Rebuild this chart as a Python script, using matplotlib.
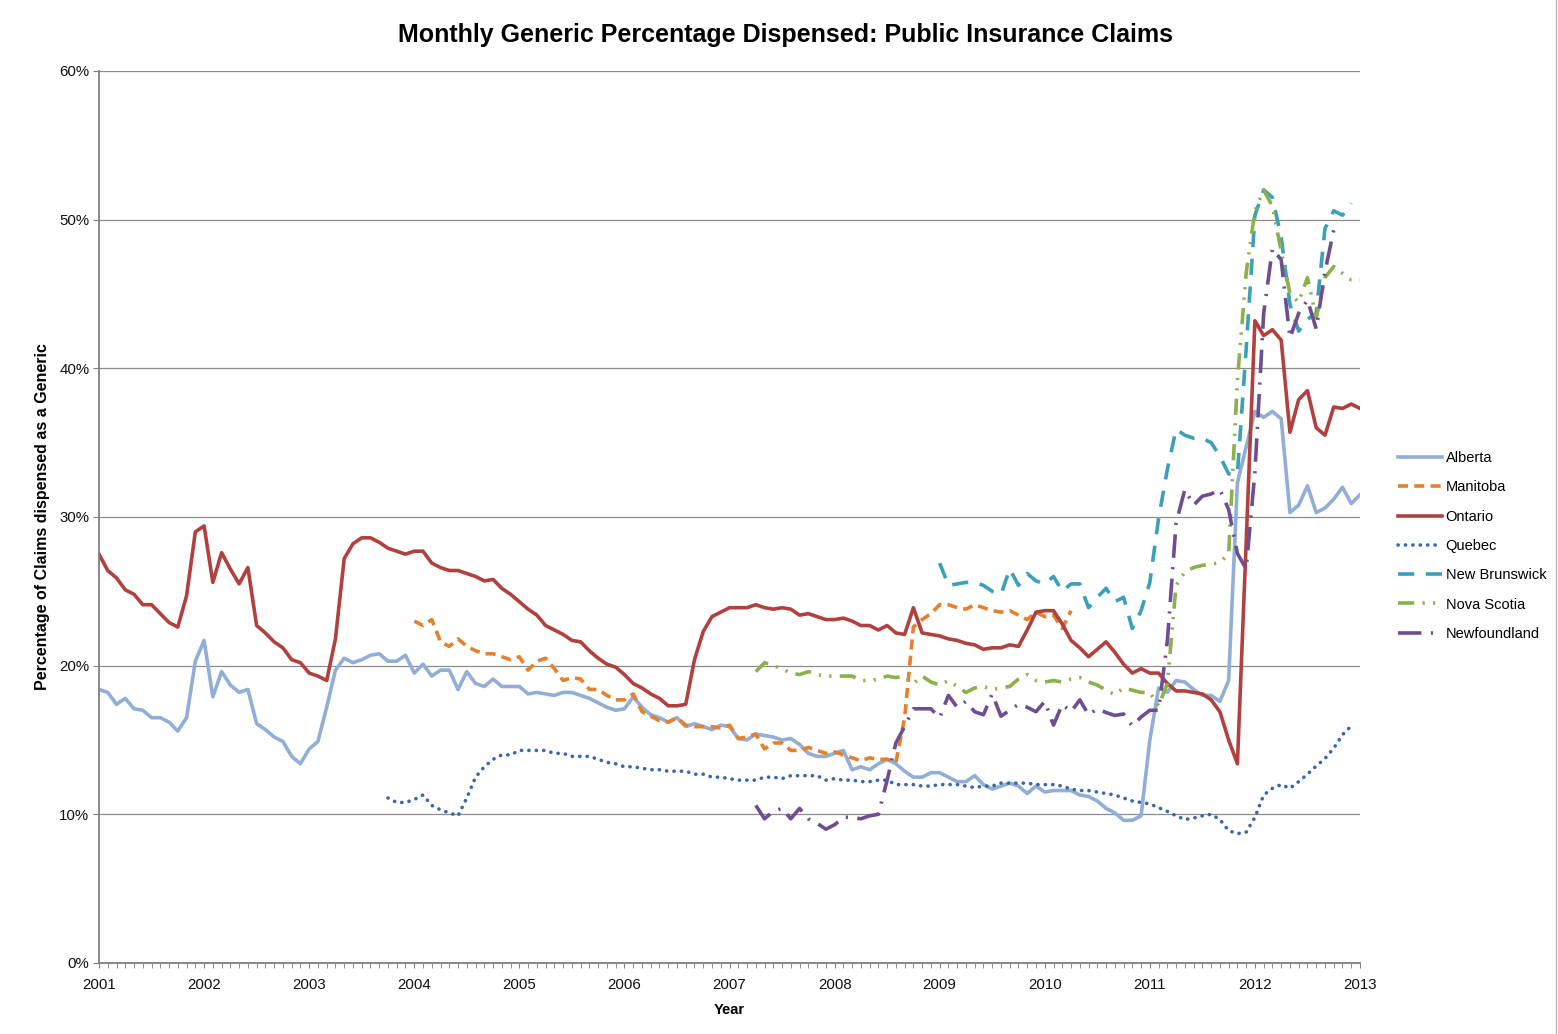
import numpy as np
import pandas as pd
import matplotlib
matplotlib.use("Agg")
import matplotlib.pyplot as plt
from matplotlib import font_manager
from matplotlib.lines import Line2D

# ---------------------------------------------------------
# DATA (monthly generic %)
# ---------------------------------------------------------
alberta_start = "2001-01"
alberta = [
    18.4, 18.2, 17.4, 17.8, 17.1, 17.0, 16.5, 16.5, 16.2, 15.6, 16.5, 20.3,
    21.7, 17.9, 19.6, 18.7, 18.2, 18.4, 16.1, 15.7, 15.2, 14.9, 13.9, 13.4,
    14.4, 14.9, 17.2, 19.7, 20.5, 20.2, 20.4, 20.7, 20.8, 20.3, 20.3, 20.7,
    19.5, 20.1, 19.3, 19.7, 19.7, 18.4, 19.6, 18.8, 18.6, 19.1, 18.6, 18.6,
    18.6, 18.1, 18.2, 18.1, 18.0, 18.2, 18.2, 18.0, 17.8, 17.5, 17.2, 17.0,
    17.1, 17.9, 17.2, 16.7, 16.5, 16.2, 16.5, 15.9, 16.1, 15.9, 15.7, 16.0,
    15.9, 15.1, 15.0, 15.4, 15.3, 15.2, 15.0, 15.1, 14.7, 14.1, 13.9, 13.9,
    14.1, 14.3, 13.0, 13.2, 13.0, 13.4, 13.7, 13.4, 12.9, 12.5, 12.5, 12.8,
    12.8, 12.5, 12.2, 12.2, 12.6, 12.0, 11.7, 11.9, 12.1, 11.9, 11.4, 11.9,
    11.5, 11.6, 11.6, 11.6, 11.3, 11.2, 10.9, 10.4, 10.1, 9.6, 9.6, 9.9,
    15.0, 18.5, 18.2, 19.0, 18.9, 18.4, 18.0, 18.0, 17.6, 19.0, 32.3, 34.7,
    37.1, 36.7, 37.1, 36.6, 30.3, 30.8, 32.1, 30.3, 30.6, 31.2, 32.0, 30.9,
    31.5,
]

manitoba_start = "2004-01"
manitoba = [
    23.0, 22.7, 23.1, 21.6, 21.3, 21.8, 21.3, 21.0, 20.8, 20.8, 20.6, 20.4,
    20.6, 19.7, 20.3, 20.5, 19.8, 19.0, 19.2, 19.1, 18.4, 18.4, 18.0, 17.7,
    17.7, 18.1, 16.9, 16.6, 16.3, 16.2, 16.5, 16.0, 15.9, 15.9, 15.9, 15.8,
    16.0, 15.1, 15.2, 15.4, 14.4, 14.8, 14.8, 14.3, 14.3, 14.5, 14.3, 14.1,
    14.2, 14.0, 13.8, 13.6, 13.8, 13.7, 13.7, 13.5, 16.5, 22.6, 23.1, 23.5,
    24.1, 24.1, 23.9, 23.8, 24.1, 23.9, 23.7, 23.6, 23.7, 23.4, 23.1, 23.6,
    23.3, 23.4, 22.5, 23.7,
]

ontario_start = "2001-01"
ontario = [
    27.5, 26.4, 25.9, 25.1, 24.8, 24.1, 24.1, 23.5, 22.9, 22.6, 24.7, 29.0,
    29.4, 25.6, 27.6, 26.5, 25.5, 26.6, 22.7, 22.2, 21.6, 21.2, 20.4, 20.2,
    19.5, 19.3, 19.0, 21.8, 27.2, 28.2, 28.6, 28.6, 28.3, 27.9, 27.7, 27.5,
    27.7, 27.7, 26.9, 26.6, 26.4, 26.4, 26.2, 26.0, 25.7, 25.8, 25.2, 24.8,
    24.3, 23.8, 23.4, 22.7, 22.4, 22.1, 21.7, 21.6, 21.0, 20.5, 20.1, 19.9,
    19.4, 18.8, 18.5, 18.1, 17.8, 17.3, 17.3, 17.4, 20.4, 22.3, 23.3, 23.6,
    23.9, 23.9, 23.9, 24.1, 23.9, 23.8, 23.9, 23.8, 23.4, 23.5, 23.3, 23.1,
    23.1, 23.2, 23.0, 22.7, 22.7, 22.4, 22.7, 22.2, 22.1, 23.9, 22.2, 22.1,
    22.0, 21.8, 21.7, 21.5, 21.4, 21.1, 21.2, 21.2, 21.4, 21.3, 22.4, 23.6,
    23.7, 23.7, 22.8, 21.7, 21.2, 20.6, 21.1, 21.6, 20.9, 20.1, 19.5, 19.8,
    19.5, 19.5, 18.8, 18.3, 18.3, 18.2, 18.1, 17.7, 16.9, 15.0, 13.4, 28.3,
    43.2, 42.2, 42.6, 41.9, 35.7, 37.9, 38.5, 36.0, 35.5, 37.4, 37.3, 37.6,
    37.3,
]

quebec_start = "2003-10"
quebec = [
    11.1, 10.8, 10.8,
    11.0, 11.3, 10.6, 10.3, 10.1, 9.9, 11.1, 12.5, 13.2, 13.7, 14.0, 14.0,
    14.3, 14.3, 14.3, 14.3, 14.1, 14.1, 13.9, 13.9, 13.9, 13.7, 13.5, 13.4,
    13.2, 13.2, 13.1, 13.0, 13.0, 12.9, 12.9, 12.9, 12.7, 12.7, 12.5, 12.5,
    12.4, 12.3, 12.3, 12.3, 12.5, 12.5, 12.4, 12.6, 12.6, 12.6, 12.6, 12.3,
    12.4, 12.3, 12.3, 12.2, 12.2, 12.3, 12.3, 12.0, 12.0, 12.0, 11.9, 11.9,
    12.0, 12.0, 12.0, 11.9, 11.8, 11.9, 11.9, 12.1, 12.1, 12.1, 12.1, 12.0,
    12.0, 12.0, 11.9, 11.7, 11.6, 11.6, 11.5, 11.4, 11.3, 11.1, 10.9, 10.8,
    10.7, 10.45, 10.2, 9.9, 9.65, 9.75, 9.9, 10.0, 9.65, 8.9, 8.7, 8.8,
    9.8, 11.3, 11.75, 12.0, 11.75, 12.2, 12.7, 13.25, 13.75, 14.45, 15.35, 15.95,
]

new_brunswick_start = "2009-01"
new_brunswick = [
    26.9, 25.4, 25.5, 25.6, 25.6, 25.4, 25.0, 24.8, 26.5, 25.4, 26.2, 25.7,
    25.5, 26.0, 25.0, 25.5, 25.5, 23.9, 24.6, 25.2, 24.3, 24.6, 22.5, 23.7,
    25.6, 29.9, 33.2, 35.9, 35.5, 35.3, 35.3, 35.0, 34.1, 32.9, 32.9, 41.3,
    50.3, 52.0, 51.5, 48.8, 44.3, 42.5, 43.3, 43.7, 49.4, 50.6, 50.3, 51.1,
]

nova_scotia_start = "2007-04"
nova_scotia = [
    19.6, 20.2, 20.0, 19.8, 19.5, 19.4, 19.6, 19.4, 19.3,
    19.3, 19.3, 19.3, 19.0, 19.0, 19.1, 19.3, 19.2, 19.3, 18.8, 19.3, 18.9,
    18.7, 19.0, 18.6, 18.2, 18.5, 18.6, 18.4, 18.5, 18.6, 19.1, 19.4, 19.0,
    18.9, 19.0, 18.9, 19.1, 19.2, 18.9, 18.7, 18.35, 18.05, 18.5, 18.35, 18.2,
    18.2, 17.3, 18.8, 25.4, 26.3, 26.6, 26.75, 26.8, 26.95, 27.5, 39.2, 46.4,
    50.6, 52.0, 50.9, 47.9, 45.05, 44.45, 46.1, 43.4, 46.1, 46.85, 46.4, 45.95,
    45.95,
]

newfoundland_start = "2007-04"
newfoundland = [
    10.6, 9.7, 10.2, 10.4, 9.7, 10.4, 9.7, 9.4, 9.0,
    9.3, 9.8, 9.8, 9.7, 9.9, 10.0, 12.3, 14.8, 15.9, 17.1, 17.1, 17.1,
    16.5, 18.0, 17.2, 17.6, 16.9, 16.7, 18.1, 16.6, 17.0, 17.4, 17.2, 16.9,
    17.6, 16.0, 17.4, 16.9, 17.7, 16.7, 17.1, 16.85, 16.65, 16.75, 15.95, 16.55,
    17.0, 17.0, 21.65, 29.6, 31.85, 30.8, 31.4, 31.55, 31.85, 30.5, 27.55, 26.5,
    33.0, 43.7, 48.05, 47.3, 42.05, 43.7, 44.6, 42.65, 46.5, 49.3,
]

year_ticks = list(range(2001, 2014))
pct_ticks = [0, 10, 20, 30, 40, 50, 60]


def decimal_years(start, n):
    p = pd.period_range(pd.Period(start, freq="M"), periods=n, freq="M")
    return np.asarray(p.year + (p.month - 1) / 12.0)


# ---------------------------------------------------------
# FONTS
# ---------------------------------------------------------
def have(name):
    try:
        font_manager.findfont(name, fallback_to_default=False)
        return True
    except Exception:
        return False

base_font = "Liberation Sans" if have("Liberation Sans") else "DejaVu Sans"
plt.rcParams["font.family"] = [base_font, "DejaVu Sans"]

# ---------------------------------------------------------
# PLOT
# ---------------------------------------------------------
fig = plt.figure(figsize=(15.58, 10.34), dpi=100)
ax = fig.add_axes([99 / 1558, 71 / 1034, (1360 - 99) / 1558, (963 - 71) / 1034])

series = [
    ("Alberta", alberta_start, alberta, "#92ADD6", dict(linestyle="-")),
    ("Manitoba", manitoba_start, manitoba, "#E4812F", dict(linestyle=(0, (2.8, 1.7)))),
    ("Ontario", ontario_start, ontario, "#B0413E", dict(linestyle="-")),
    ("Quebec", quebec_start, quebec, "#3A67A8",
     dict(linestyle=(0, (0.05, 2.0)), dash_capstyle="round")),
    ("New Brunswick", new_brunswick_start, new_brunswick, "#3CA0B8",
     dict(linestyle=(0, (4.5, 3.2)))),
    ("Nova Scotia", nova_scotia_start, nova_scotia, "#8CB04C",
     dict(linestyle=(0, (4.5, 2.3, 0.6, 2.3, 0.6, 2.3)))),
    ("Newfoundland", newfoundland_start, newfoundland, "#6E4E92",
     dict(linestyle=(0, (6.5, 2.6, 0.6, 2.6)))),
]

for name, start, vals, color, style in series:
    ax.plot(decimal_years(start, len(vals)), vals, color=color, lw=2.6,
            label=name, **style)

ax.set_xlim(2001, 2013)
ax.set_ylim(0, 60)
ax.set_xticks(year_ticks)
ax.set_xticklabels([str(y) for y in year_ticks])
ax.set_xticks(np.arange(2001, 2013 + 1e-9, 1 / 12.0), minor=True)
ax.set_yticks(pct_ticks)
ax.set_yticklabels([f"{p}%" for p in pct_ticks])
ax.tick_params(axis="both", which="both", direction="out", color="#808080",
               labelsize=10.8, labelcolor="#111111")
ax.tick_params(axis="x", which="both", length=3.5, pad=7)
ax.tick_params(axis="y", which="major", length=4, pad=3)

ax.grid(axis="y", color="#8C8C8C", lw=0.9)
ax.set_axisbelow(True)
for side in ["top", "right"]:
    ax.spines[side].set_visible(False)
for side in ["left", "bottom"]:
    ax.spines[side].set_color("#808080")
    ax.spines[side].set_linewidth(1.3)

ax.set_xlabel("Year", fontsize=10.5, fontweight="bold")
ax.xaxis.set_label_coords(0.5, -0.045)
ax.set_ylabel("Percentage of Claims dispensed as a Generic", fontsize=11.5,
              fontweight="bold")
ax.yaxis.set_label_coords(-0.039, 0.5)

fig.text(0.504, 0.966, "Monthly Generic Percentage Dispensed: Public Insurance Claims",
         ha="center", va="center", fontsize=18, fontweight="bold")

fig.legend(loc="center left", bbox_to_anchor=(0.889, 0.472), frameon=False,
           fontsize=10.5, handlelength=3.0, handletextpad=0.25, labelspacing=1.05)

fig.add_artist(Line2D([0.9985, 0.9985], [0, 1], color="#BBBBBB", lw=1))

fig.savefig("out.png", dpi=100)
